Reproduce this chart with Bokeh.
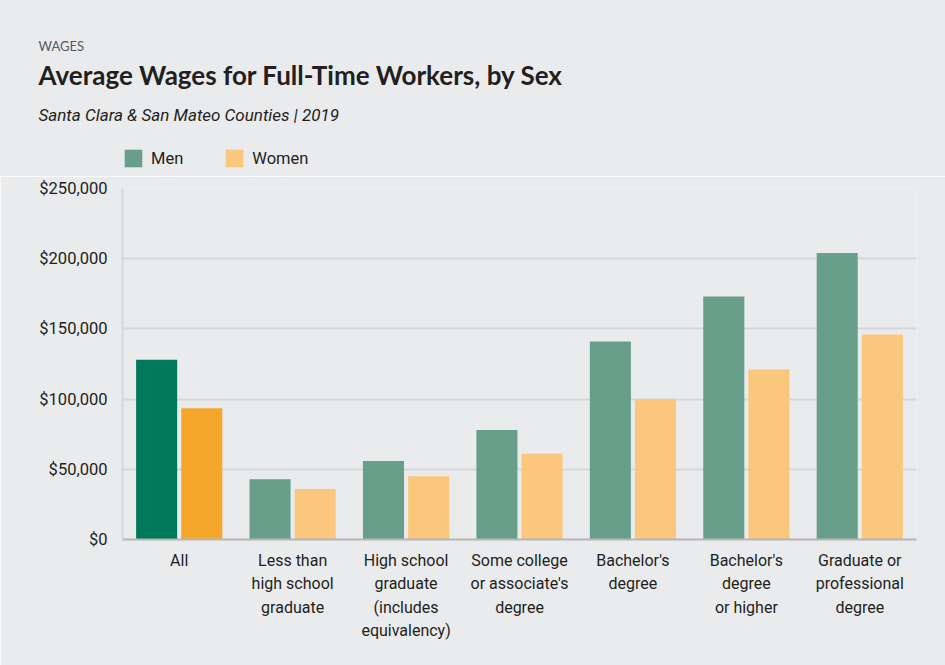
from bokeh.plotting import figure
from bokeh.layouts import column
from bokeh.models import (Legend, LegendItem, FixedTicker, NumeralTickFormatter,
                          Range1d, FactorRange, ColumnDataSource, Title, Label)
from bokeh.transform import dodge
from bokeh.embed import file_html
from bokeh.resources import INLINE

# ---- data ----
categories = [
    "All",
    "Less than\nhigh school\ngraduate",
    "High school\ngraduate\n(includes\nequivalency)",
    "Some college\nor associate's\ndegree",
    "Bachelor's\ndegree",
    "Bachelor's\ndegree\nor higher",
    "Graduate or\nprofessional\ndegree",
]
men = [128000, 43000, 56000, 78000, 141000, 173000, 204000]
women = [93500, 36000, 45000, 61000, 100000, 121000, 146000]
y_ticks = [0, 50000, 100000, 150000, 200000, 250000]
series_names = ["Men", "Women"]
kicker = "WAGES"
title_text = "Average Wages for Full-Time Workers, by Sex"
subtitle_text = "Santa Clara & San Mateo Counties  |  2019"

# ---- styles / layout ----
BG = "#EAEBED"
MEN_HI, MEN = "#00785A", "#689F8B"
WOMEN_HI, WOMEN = "#F4A72B", "#FAC77D"
TXT = "#231F20"
FONT = "Roboto"
W, H = 945, 665
LEFT, RIGHT = 122, 916          # frame edges (page px)
HEAD_H = 176
MAIN_H = H - HEAD_H
TEXT_X = 38

# ---------------- main chart ----------------
men_colors = [MEN_HI if i == 0 else MEN for i in range(len(categories))]
women_colors = [WOMEN_HI if i == 0 else WOMEN for i in range(len(categories))]
src = ColumnDataSource(dict(cat=categories, men=men, women=women,
                            mc=men_colors, wc=women_colors))

p = figure(width=W, height=MAIN_H, output_backend="svg", toolbar_location=None,
           title=None,
           x_range=FactorRange(*categories, range_padding=0),
           y_range=Range1d(0, 250000),
           min_border_left=LEFT, min_border_right=W - RIGHT, min_border_top=12,
           min_border_bottom=MAIN_H - 12 - 351)
p.background_fill_color = BG
p.border_fill_color = BG
p.outline_line_color = None

p.vbar(x=dodge("cat", -0.199, range=p.x_range), top="men", width=0.362,
       source=src, fill_color="mc", line_color=None)
p.vbar(x=dodge("cat", 0.199, range=p.x_range), top="women", width=0.362,
       source=src, fill_color="wc", line_color=None)

p.yaxis.ticker = FixedTicker(ticks=y_ticks)
p.yaxis.formatter = NumeralTickFormatter(format="$0,0")
p.yaxis.major_tick_line_color = None
p.yaxis.minor_tick_line_color = None
p.yaxis.axis_line_color = "#D6D7D9"
p.yaxis.axis_line_width = 2
p.yaxis.major_label_standoff = 9
p.yaxis.major_label_text_font = FONT
p.yaxis.major_label_text_font_size = "16.5px"
p.yaxis.major_label_text_color = TXT

p.xaxis.major_tick_line_color = None
p.xaxis.minor_tick_line_color = None
p.xaxis.axis_line_color = "#B5B6B8"
p.xaxis.axis_line_width = 2
p.xaxis.major_label_standoff = 5
p.xaxis.major_label_text_font = FONT
p.xaxis.major_label_text_font_size = "16px"
p.xaxis.major_label_text_color = TXT
p.xaxis.major_label_text_line_height = 1.24

p.xgrid.grid_line_color = None
p.ygrid.grid_line_color = "#D6D7D9"
p.ygrid.grid_line_width = 2

# ---------------- header (titles + legend) ----------------
head = figure(width=W, height=HEAD_H, output_backend="svg", toolbar_location=None,
              title=None, x_axis_location=None, y_axis_location=None,
              x_range=Range1d(0, W), y_range=Range1d(HEAD_H, 0), min_border=0)
head.background_fill_color = BG
head.border_fill_color = BG
head.outline_line_color = BG
head.outline_line_width = 3
head.xgrid.visible = False
head.ygrid.visible = False

try:
    head.frame_align = False
    p.frame_align = False
    free_frame = True
except Exception:
    free_frame = False

if free_frame:
    # header frame spans the whole header canvas: data units == pixels
    head.add_layout(Label(x=TEXT_X, y=45, text=kicker, text_font="Lato",
                          text_font_size="13px", text_color="#58595B",
                          text_baseline="alphabetic"))
    head.add_layout(Label(x=TEXT_X, y=74, text=title_text, text_font="Lato",
                          text_font_style="bold", text_font_size="26px",
                          text_color=TXT, text_baseline="alphabetic"))
    head.add_layout(Label(x=TEXT_X, y=114, text=subtitle_text, text_font=FONT,
                          text_font_style="italic", text_font_size="17px",
                          text_color=TXT, text_baseline="alphabetic"))
    legend_x = LEFT
else:
    head.min_border_left = LEFT
    head.min_border_right = W - RIGHT
    head.add_layout(Title(text=subtitle_text, align="left", offset=TEXT_X - LEFT,
                          standoff=17, text_font=FONT, text_font_style="italic",
                          text_font_size="17px", text_color=TXT), "above")
    head.add_layout(Title(text=title_text, align="left", offset=TEXT_X - LEFT,
                          standoff=16, text_font="Lato", text_font_style="bold",
                          text_font_size="26px", text_color=TXT), "above")
    head.add_layout(Title(text=kicker, align="left", offset=TEXT_X - LEFT,
                          standoff=30, text_font="Lato", text_font_style="normal",
                          text_font_size="13px", text_color="#58595B"), "above")
    legend_x = 0

r_m = head.vbar(x=[-50], top=[0], width=1, fill_color=MEN, line_color=None)
r_w = head.vbar(x=[-50], top=[0], width=1, fill_color=WOMEN, line_color=None)
legend = Legend(items=[LegendItem(label=series_names[0], renderers=[r_m]),
                       LegendItem(label=series_names[1], renderers=[r_w])],
                orientation="horizontal", location=(legend_x, HEAD_H - 169),
                glyph_width=22, glyph_height=22, label_standoff=7, spacing=40,
                padding=0, margin=0, border_line_color=None,
                background_fill_alpha=0, label_text_font=FONT,
                label_text_font_size="16.5px", label_text_color=TXT,
                label_height=22)
head.add_layout(legend, "center")

layout = column(head, p, spacing=0)
html = file_html(layout, INLINE)
html = html.replace("<body>", '<body style="background:%s">' % BG, 1)
open("out.html", "w").write(html)
